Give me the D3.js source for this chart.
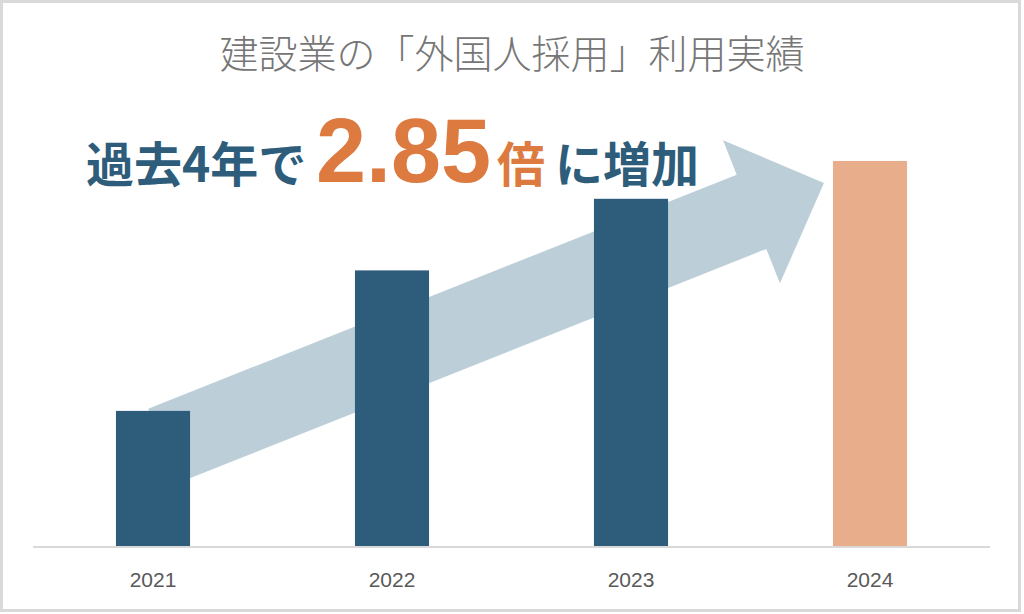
<!DOCTYPE html>
<html>
<head>
<meta charset="utf-8">
<script src="https://cdn.jsdelivr.net/npm/d3@7"></script>
<style>
  html, body { margin: 0; padding: 0; background: #fff; }
  svg { display: block; }
</style>
</head>
<body>
<svg width="1024" height="614"></svg>
<script>
// data
var years = ["2021", "2022", "2023", "2024"];
var values = [100, 204, 257, 285];   // index, 2021 = 100
var ratioLabel = "2.85";

var svg = d3.select("svg"),
    width = +svg.attr("width"),
    height = +svg.attr("height");

// frame
svg.append("rect")
   .attr("x", 1.5).attr("y", 1.5)
   .attr("width", 1018).attr("height", 609)
   .attr("fill", "#fff")
   .attr("stroke", "#d9d9d9")
   .attr("stroke-width", 3);

var x = d3.scaleBand()
    .domain(years)
    .range([33.5, 989.5])
    .paddingInner(0.69)
    .paddingOuter(0.345);

var y = d3.scaleLinear()
    .domain([0, 300])
    .range([546, 140.7]);

// title
svg.append("text")
   .attr("x", width / 2)
   .attr("y", 68)
   .attr("text-anchor", "middle")
   .attr("font-family", "'Noto Sans CJK JP', 'Noto Sans', sans-serif")
   .attr("font-weight", 300)
   .attr("font-size", 39)
   .attr("fill", "#767676")
   .text("建設業の「外国人採用」利用実績");

// growth arrow, anchored on first and last bars
var s = [x(years[0]) + x.bandwidth() / 2 + 10, y(values[0]) + 35];
var t = [x(years[3]) - 9, y(values[3]) + 22];
var dx = t[0] - s[0], dy = t[1] - s[1];
var len = Math.sqrt(dx * dx + dy * dy);
var ux = dx / len, uy = dy / len;      // along
var nx = -uy, ny = ux;                 // across
var shaftW = 40, headW = 77, headL = 78;
var b = [t[0] - ux * headL, t[1] - uy * headL];
function pt(p, k) { return [p[0] + nx * k, p[1] + ny * k]; }
var arrowPts = [
  pt(s, -shaftW), pt(b, -shaftW), pt(b, -headW), t,
  pt(b, headW), pt(b, shaftW), pt(s, shaftW)
];
svg.append("path")
   .attr("d", d3.line()(arrowPts) + "Z")
   .attr("fill", "#bccfd9");

// axis baseline
svg.append("line")
   .attr("x1", 33).attr("x2", 990)
   .attr("y1", 547).attr("y2", 547)
   .attr("stroke", "#d9d9d9")
   .attr("stroke-width", 2);

// bars
svg.selectAll(".bar")
   .data(values)
   .enter().append("rect")
   .attr("class", "bar")
   .attr("x", function (d, i) { return x(years[i]); })
   .attr("y", function (d) { return y(d); })
   .attr("width", x.bandwidth())
   .attr("height", function (d) { return y(0) - y(d); })
   .attr("fill", function (d, i) { return i === years.length - 1 ? "#e8ad8a" : "#2e5c7b"; });

// year labels
var xAxis = svg.append("g")
   .attr("transform", "translate(0,548)")
   .call(d3.axisBottom(x).tickSize(0).tickPadding(24));
xAxis.select(".domain").remove();
xAxis.selectAll("text")
   .attr("font-family", "'Liberation Sans', Arial, sans-serif")
   .attr("font-size", 21)
   .attr("fill", "#595959");

// headline
var head = svg.append("text")
   .attr("y", 182)
   .attr("font-family", "'Noto Sans CJK JP', sans-serif")
   .attr("font-weight", 700);
head.append("tspan")
   .attr("x", 86)
   .attr("font-size", 48)
   .attr("fill", "#2e5c7b")
   .text("過去4年で");
head.append("tspan")
   .attr("x", 316)
   .attr("font-family", "'Liberation Sans', Arial, sans-serif")
   .attr("font-size", 90)
   .attr("fill", "#dc7a40")
   .text(ratioLabel);
head.append("tspan")
   .attr("x", 497)
   .attr("font-size", 48)
   .attr("fill", "#dc7a40")
   .text("倍");
head.append("tspan")
   .attr("x", 555)
   .attr("font-size", 48)
   .attr("fill", "#2e5c7b")
   .text("に増加");
</script>
</body>
</html>
